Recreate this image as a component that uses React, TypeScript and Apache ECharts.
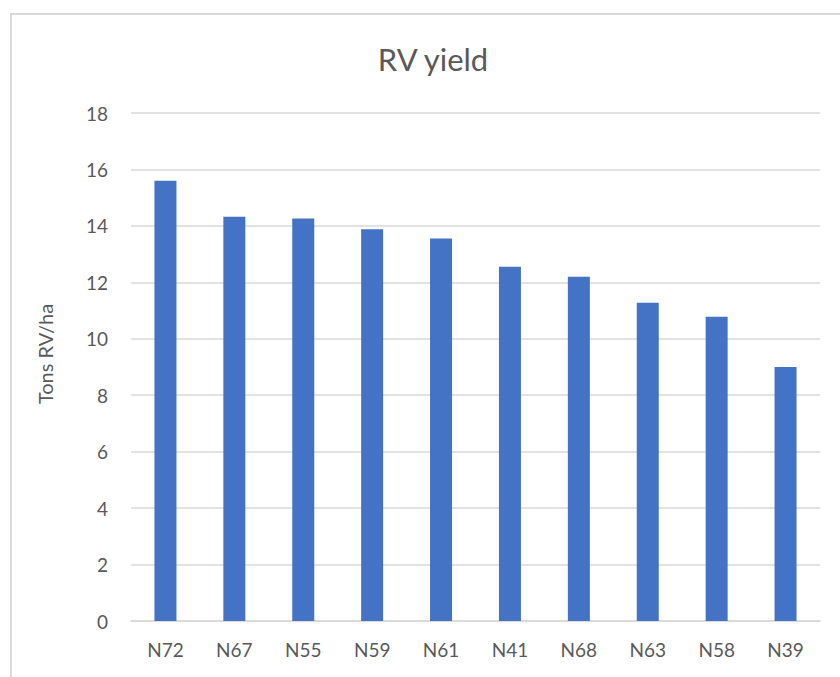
import React, { useEffect, useRef } from "react";
import * as echarts from "echarts";

const categories = ["N72", "N67", "N55", "N59", "N61", "N41", "N68", "N63", "N58", "N39"];
const yieldValues = [15.6, 14.32, 14.26, 13.88, 13.55, 12.55, 12.2, 11.28, 10.78, 9.0];
const yTicks = { min: 0, max: 18, interval: 2 };

export default function App() {
  const ref = useRef<HTMLDivElement>(null);
  useEffect(() => {
    if (!ref.current) return;
    const chart = echarts.init(ref.current, null, { renderer: "svg" });
    const font = "Lato, 'Noto Sans', sans-serif";
    chart.setOption({
      animation: false,
      backgroundColor: "#ffffff",
      title: {
        text: "RV yield",
        left: 428,
        top: 38,
        textAlign: "center",
        textStyle: { color: "#595959", fontSize: 31, fontWeight: "normal", fontFamily: font },
      },
      graphic: [
        {
          type: "rect",
          shape: { x: 11, y: 14, width: 860, height: 700 },
          style: { fill: "none", stroke: "#d9d9d9", lineWidth: 2 },
          silent: true,
        },
        {
          type: "text",
          x: 45,
          y: 354,
          rotation: Math.PI / 2,
          style: {
            text: "Tons RV/ha",
            fill: "#595959",
            fontSize: 20,
            fontFamily: font,
            align: "center",
            verticalAlign: "middle",
          },
        },
      ],
      grid: { left: 131, right: 20, top: 113, bottom: 56, containLabel: false },
      xAxis: {
        type: "category",
        data: categories,
        axisLine: { lineStyle: { color: "#d9d9d9", width: 1.5 } },
        axisTick: { show: false },
        axisLabel: { color: "#595959", fontSize: 19, fontFamily: font, margin: 19 },
      },
      yAxis: {
        type: "value",
        min: yTicks.min,
        max: yTicks.max,
        interval: yTicks.interval,
        axisLine: { show: false },
        axisTick: { show: false },
        axisLabel: { color: "#595959", fontSize: 19, fontFamily: font, margin: 23 },
        splitLine: { lineStyle: { color: "#d9d9d9", width: 1.5 } },
      },
      series: [
        {
          type: "bar",
          data: yieldValues,
          barWidth: 22,
          itemStyle: { color: "#4472C4" },
        },
      ],
    });
    return () => chart.dispose();
  }, []);
  return (
    <div
      ref={ref}
      style={{ position: "fixed", left: 0, top: 0, width: 840, height: 677 }}
    />
  );
}
